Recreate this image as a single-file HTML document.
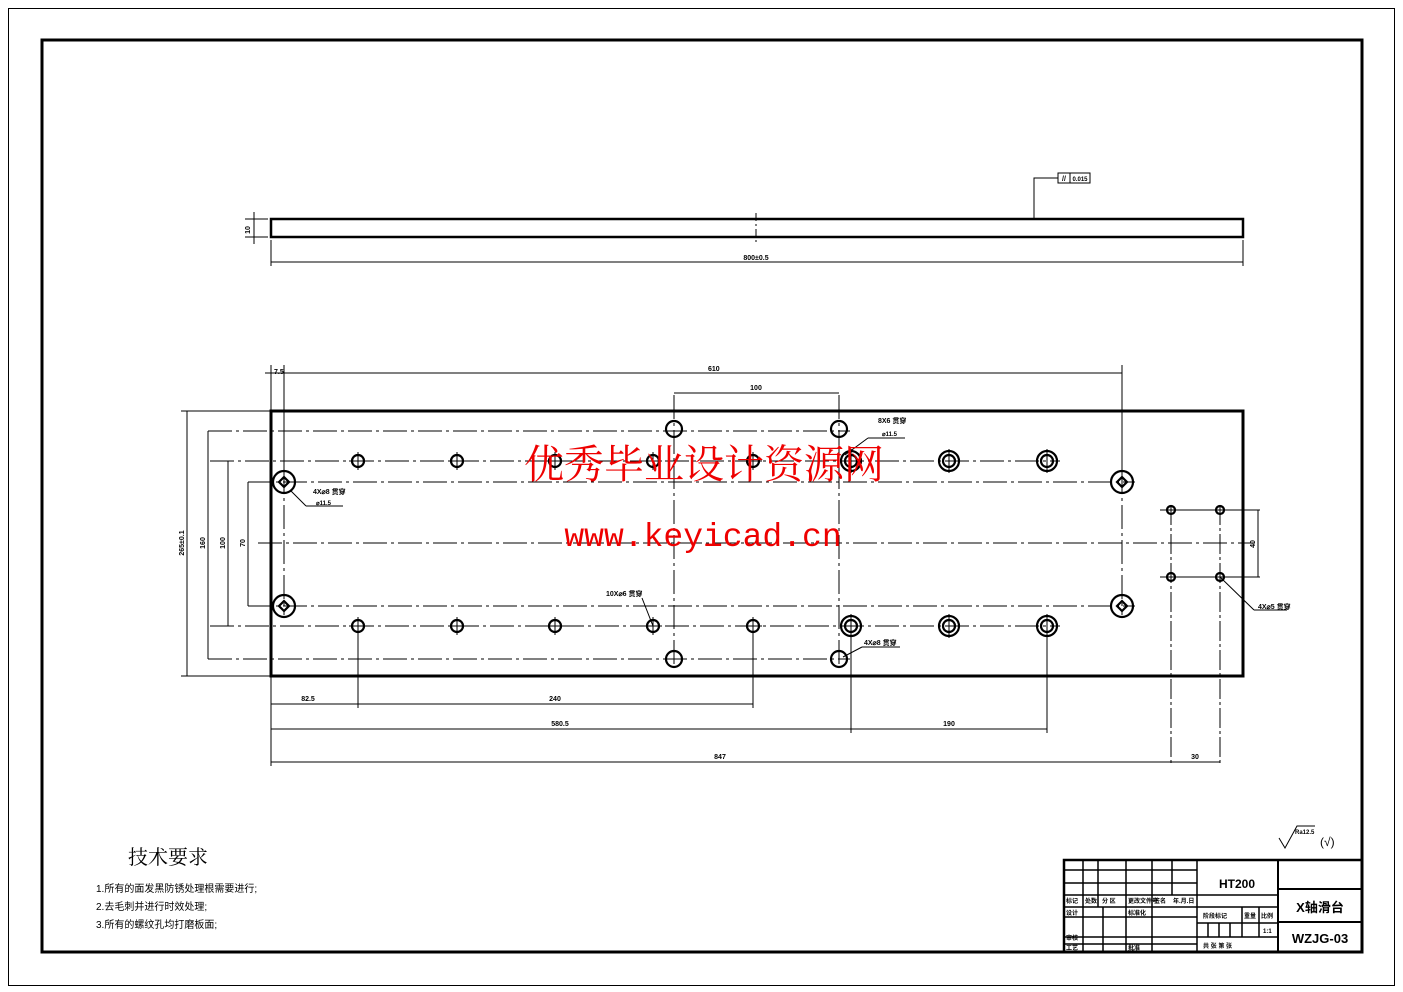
<!DOCTYPE html>
<html><head><meta charset="utf-8"><style>
html,body{margin:0;padding:0;background:#fff;}
svg{display:block;}
text{font-family:"Liberation Sans","Noto Sans CJK SC",sans-serif;fill:#000;}
</style></head><body>
<svg id="s" width="1403" height="992" viewBox="0 0 1403 992" xmlns="http://www.w3.org/2000/svg">
<rect x="8.5" y="8.5" width="1386" height="977" fill="none" stroke="#000" stroke-width="1"/>
<rect x="42" y="40" width="1320" height="912" fill="none" stroke="#000" stroke-width="3"/>
<!-- top view -->
<rect x="271" y="219" width="972" height="18" fill="none" stroke="#000" stroke-width="2.5"/>
<line x1="756" y1="213" x2="756" y2="243" stroke="#000" stroke-dasharray="8,3,2,3"/>
<g stroke="#000" stroke-width="1">
<line x1="271" y1="240" x2="271" y2="266"/><line x1="1243" y1="240" x2="1243" y2="266"/>
<line x1="271" y1="262" x2="1243" y2="262"/>
<line x1="245" y1="219" x2="268" y2="219"/><line x1="245" y1="237" x2="268" y2="237"/>
<line x1="254" y1="212" x2="254" y2="244"/>
<polyline points="1034,219 1034,178 1058,178" fill="none"/>
<rect x="1058" y="173" width="12" height="10" fill="none"/><rect x="1070" y="173" width="20" height="10" fill="none"/>
</g>
<text x="756" y="260" font-size="7" font-weight="bold" text-anchor="middle">800±0.5</text>
<text x="250" y="230" font-size="7" font-weight="bold" text-anchor="middle" transform="rotate(-90 250 230)">10</text>
<text x="1080" y="181" font-size="6" font-weight="bold" text-anchor="middle">0.015</text>
<text x="1064" y="181" font-size="7" font-weight="bold" text-anchor="middle">//</text>
<!-- plan view -->
<rect x="271" y="411" width="972" height="265" fill="none" stroke="#000" stroke-width="3"/>
<g id="lines" stroke="#000" stroke-width="1" fill="none"></g>
<g id="holes" stroke="#000" stroke-width="2.2" fill="none"></g>
<g font-size="7" font-weight="bold">
<text x="274" y="374">7.5</text>
<text x="708" y="371">610</text>
<text x="756" y="390" text-anchor="middle">100</text>
<text x="878" y="423">8X6 贯穿</text>
<text x="882" y="436" font-size="6">⌀11.5</text>
<text x="313" y="494">4X⌀8 贯穿</text>
<text x="316" y="505" font-size="6">⌀11.5</text>
<text x="606" y="596">10X⌀6 贯穿</text>
<text x="864" y="645">4X⌀8 贯穿</text>
<text x="1258" y="609">4X⌀5 贯穿</text>
<text x="308" y="701" text-anchor="middle">82.5</text>
<text x="555" y="701" text-anchor="middle">240</text>
<text x="560" y="726" text-anchor="middle">580.5</text>
<text x="949" y="726" text-anchor="middle">190</text>
<text x="720" y="759" text-anchor="middle">847</text>
<text x="1195" y="759" text-anchor="middle">30</text>
<text x="184" y="543" text-anchor="middle" transform="rotate(-90 184 543)">265±0.1</text>
<text x="205" y="543" text-anchor="middle" transform="rotate(-90 205 543)">160</text>
<text x="225" y="543" text-anchor="middle" transform="rotate(-90 225 543)">100</text>
<text x="245" y="543" text-anchor="middle" transform="rotate(-90 245 543)">70</text>
<text x="1255" y="544" text-anchor="middle" transform="rotate(-90 1255 544)">40</text>
</g>
<!-- watermark -->
<text x="704" y="478" font-size="40" text-anchor="middle" style="fill:#e00;font-family:'Liberation Serif','Noto Serif CJK SC',serif">优秀毕业设计资源网</text>
<text x="703" y="546" font-size="33" text-anchor="middle" style="fill:#e00;font-family:'Liberation Mono',monospace">www.keyicad.cn</text>
<!-- tech requirements -->
<text x="128" y="864" font-size="20" style="font-family:'Liberation Serif','Noto Serif CJK SC',serif">技术要求</text>
<text x="96" y="892" font-size="10">1.所有的面发黑防锈处理根需要进行;</text>
<text x="96" y="910" font-size="10">2.去毛刺并进行时效处理;</text>
<text x="96" y="928" font-size="10">3.所有的螺纹孔均打磨板面;</text>
<!-- roughness -->
<g stroke="#000" fill="none"><polyline points="1279,838 1285,848 1297,826 1315,826"/></g>
<text x="1295" y="834" font-size="6" font-weight="bold">Ra12.5</text>
<text x="1320" y="846" font-size="12">(√)</text>
<!-- title block -->
<g stroke="#000" stroke-width="1.5" fill="none">
<rect x="1064" y="860" width="298" height="92" stroke-width="2.5"/>
<line x1="1197" y1="860" x2="1197" y2="952"/><line x1="1278" y1="860" x2="1278" y2="952" stroke-width="2"/>
<line x1="1278" y1="889" x2="1362" y2="889" stroke-width="2"/><line x1="1278" y1="922" x2="1362" y2="922" stroke-width="2"/>
<line x1="1064" y1="870" x2="1197" y2="870"/><line x1="1064" y1="883" x2="1197" y2="883"/>
<line x1="1064" y1="895" x2="1278" y2="895"/><line x1="1064" y1="907" x2="1197" y2="907"/>
<line x1="1197" y1="907" x2="1278" y2="907"/><line x1="1197" y1="923" x2="1278" y2="923"/><line x1="1197" y1="937" x2="1278" y2="937"/>
<line x1="1064" y1="917" x2="1197" y2="917"/><line x1="1064" y1="937" x2="1197" y2="937"/><line x1="1064" y1="944" x2="1197" y2="944"/>
<line x1="1083" y1="860" x2="1083" y2="952"/><line x1="1098" y1="860" x2="1098" y2="907"/><line x1="1103" y1="907" x2="1103" y2="952"/>
<line x1="1126" y1="860" x2="1126" y2="952"/><line x1="1152" y1="860" x2="1152" y2="952"/><line x1="1172" y1="860" x2="1172" y2="895"/>
<line x1="1242" y1="907" x2="1242" y2="937"/><line x1="1259" y1="907" x2="1259" y2="937"/>
<line x1="1208" y1="923" x2="1208" y2="937"/><line x1="1219" y1="923" x2="1219" y2="937"/><line x1="1230" y1="923" x2="1230" y2="937"/>
</g>
<g font-size="6" font-weight="bold">
<text x="1066" y="903">标记</text><text x="1085" y="903">处数</text><text x="1102" y="903">分 区</text><text x="1128" y="903">更改文件号</text><text x="1154" y="903">签名</text><text x="1173" y="903">年.月.日</text>
<text x="1066" y="915">设计</text><text x="1128" y="915">标准化</text>
<text x="1066" y="940">审核</text><text x="1066" y="950">工艺</text><text x="1128" y="950">批准</text>
<text x="1203" y="918">阶段标记</text><text x="1244" y="918">重量</text><text x="1261" y="918">比例</text>
<text x="1263" y="933">1:1</text><text x="1203" y="948">共  张  第  张</text>
</g>
<text x="1237" y="888" font-size="12" font-weight="bold" text-anchor="middle">HT200</text>
<text x="1320" y="912" font-size="13" font-weight="bold" text-anchor="middle">X轴滑台</text>
<text x="1320" y="943" font-size="13" font-weight="bold" text-anchor="middle">WZJG-03</text>
</svg>
<script>
var NS="http://www.w3.org/2000/svg",L=document.getElementById('lines'),H=document.getElementById('holes');
function ln(x1,y1,x2,y2,d){var e=document.createElementNS(NS,'line');e.setAttribute('x1',x1);e.setAttribute('y1',y1);e.setAttribute('x2',x2);e.setAttribute('y2',y2);if(d)e.setAttribute('stroke-dasharray',d);L.appendChild(e);}
function c(x,y,r,g){var e=document.createElementNS(NS,'circle');e.setAttribute('cx',x);e.setAttribute('cy',y);e.setAttribute('r',r);(g||H).appendChild(e);}
var DD="24,4,3,4";
ln(258,543,1255,543,DD);
ln(210,461,1060,461,DD);ln(210,626,1060,626,DD);
ln(248,482,1135,482,DD);ln(248,606,1135,606,DD);
ln(208,431,850,431,DD);ln(208,659,850,659,DD);
ln(1160,510,1260,510);ln(1160,577,1260,577);
ln(284,470,284,615,DD);ln(1122,470,1122,615,DD);
ln(674,395,674,668,DD);ln(839,395,839,668,DD);
ln(1171,505,1171,765,"20,3,3,3");ln(1220,505,1220,765,"20,3,3,3");
ln(271,365,271,411);ln(284,365,284,470);ln(1122,365,1122,470);ln(271,676,271,766);
ln(358,630,358,708);ln(753,630,753,708);ln(851,630,851,733);ln(1047,630,1047,733);
ln(265,373,1122,373);ln(674,393,839,393);
ln(271,704,753,704);ln(271,729,1047,729);ln(271,762,1220,762);
ln(187,411,187,676);ln(208,431,208,659);ln(228,461,228,626);ln(248,482,248,606);ln(1258,510,1258,577);
ln(181,411,271,411);ln(181,676,271,676);
ln(290,490,306,506);ln(306,506,343,506);
ln(845,455,868,438);ln(868,438,905,438);
ln(653,626,642,598);ln(843,657,862,647);ln(862,647,900,647);
ln(1220,577,1254,610);ln(1254,610,1287,610);
[358,457,555,653,753].forEach(function(x){c(x,461,6);c(x,626,6);ln(x-9,461,x+9,461);ln(x,452,x,470);ln(x-9,626,x+9,626);ln(x,617,x,635);});
[851,949,1047].forEach(function(x){c(x,461,10);c(x,461,6);c(x,626,10);c(x,626,6);ln(x,449,x,473);ln(x,614,x,638);});
[[674,429],[839,429],[674,659],[839,659]].forEach(function(p){c(p[0],p[1],8);});
[[284,482],[1122,482],[284,606],[1122,606]].forEach(function(p){c(p[0],p[1],11);var e=document.createElementNS(NS,'polygon');var x=p[0],y=p[1];e.setAttribute('points',(x-5)+','+y+' '+x+','+(y-5)+' '+(x+5)+','+y+' '+x+','+(y+5));H.appendChild(e);});
[[1171,510],[1220,510],[1171,577],[1220,577]].forEach(function(p){c(p[0],p[1],4);});
</script>
</body></html>
